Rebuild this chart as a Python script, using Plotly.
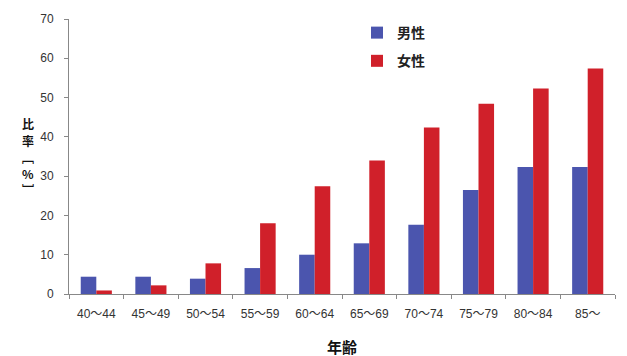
import plotly.graph_objects as go

categories = ["40～44", "45～49", "50～54", "55～59", "60～64",
              "65～69", "70～74", "75～79", "80～84", "85～"]
male = [4.4, 4.4, 3.9, 6.6, 10.0, 12.9, 17.6, 26.5, 32.3, 32.3]
female = [0.9, 2.2, 7.8, 18.0, 27.4, 34.0, 42.4, 48.4, 52.3, 57.4]
y_ticks = [0, 10, 20, 30, 40, 50, 60, 70]
y_title_chars = ["比", "率", "﹇", "%", "﹈"]

BLUE = "#4b55ae"
RED = "#d0202a"
JP = "Noto Sans CJK JP"

fig = go.Figure()
fig.add_trace(go.Bar(x=categories, y=male, name="男性", marker_color=BLUE,
                     marker_line_width=0, legendgroup="m"))
fig.add_trace(go.Bar(x=categories, y=female, name="女性", marker_color=RED,
                     marker_line_width=0, legendgroup="f"))

PLOT_H = 356 - 16 - 62
annotations = [
    dict(text="年齢", xref="paper", yref="paper", x=0.5, y=-(334 - 294) / PLOT_H,
         xanchor="center", yanchor="top", showarrow=False,
         font=dict(family=JP, size=15, color="#111", weight="bold")),
]
y_centers = [122, 139, 156, 172, 188]
for ch, yc in zip(y_title_chars, y_centers):
    annotations.append(dict(text=ch, xref="paper", yref="paper",
                            x=-(69 - 28) / 546, y=(294 - yc) / PLOT_H,
                            xanchor="center", yanchor="middle", showarrow=False,
                            font=dict(family=JP, size=12, color="#111", weight="bold")))

fig.update_layout(
    width=627, height=356,
    margin=dict(l=69, r=12, t=16, b=62),
    paper_bgcolor="white", plot_bgcolor="white",
    barmode="group", bargap=0.43, bargroupgap=0,
    font=dict(family="Liberation Sans, Arial", size=12, color="#333"),
    showlegend=True,
    legend=dict(x=(357 - 69) / 546, y=(294 - 14) / PLOT_H, xanchor="left", yanchor="top",
                font=dict(family=JP, size=14, color="#222", weight="bold"),
                traceorder="grouped", tracegroupgap=7,
                bgcolor="rgba(0,0,0,0)", itemwidth=30),
    xaxis=dict(type="category", showline=True, linecolor="#888", linewidth=1,
               ticks="outside", tickson="boundaries", ticklen=4, tickcolor="#888",
               ticklabelstandoff=9,
               tickfont=dict(family="Liberation Sans, " + JP, size=12, color="#333"),
               showgrid=False),
    yaxis=dict(range=[0, 70], tickvals=y_ticks, showline=True, linecolor="#888",
               linewidth=1, ticks="outside", ticklen=4, tickcolor="#888",
               ticklabelstandoff=8,
               showgrid=False, zeroline=False,
               tickfont=dict(size=12, color="#333")),
    annotations=annotations,
)

fig.write_html("out.html")
